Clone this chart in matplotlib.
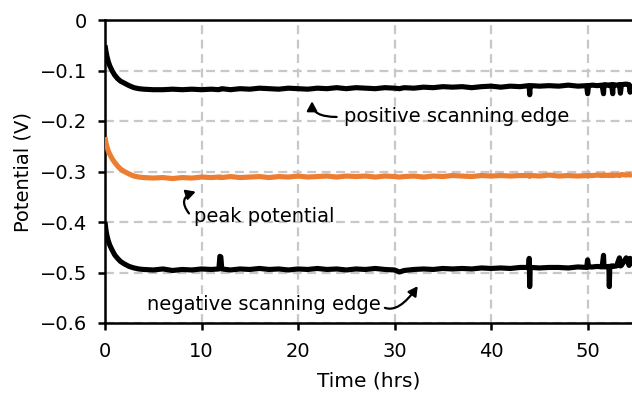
import matplotlib
matplotlib.use("Agg")
import matplotlib.pyplot as plt

plt.rcParams['font.family'] = ['DejaVu Sans']

time_hrs = [
    0, 0.1, 0.2, 0.35, 0.5, 0.75, 1.0, 1.3, 1.6, 2.0,
    2.5, 3.0, 3.5, 4, 5, 6, 7, 8, 9, 10,
    11, 11.8, 11.9, 12.0, 12.1, 13, 14, 15, 16, 17,
    18, 19, 20, 21, 22, 23, 24, 25, 26, 27,
    28, 29, 30, 30.5, 31, 32, 33, 34, 35, 36,
    37, 38, 39, 40, 41, 42, 43, 43.9, 43.95, 44.0,
    44.05, 44.2, 45, 46, 47, 48, 49, 49.9, 50.0, 50.1,
    50.5, 51, 51.5, 51.65, 51.7, 51.75, 52.2, 52.25, 52.3, 52.5,
    52.6, 52.65, 53, 53.3, 53.4, 53.5, 54, 54.3, 54.4, 54.6,
]

positive_edge = [
    -0.050, -0.062, -0.072, -0.083, -0.091, -0.101, -0.109, -0.116, -0.121, -0.125,
    -0.130, -0.134, -0.136, -0.137, -0.138, -0.138, -0.137, -0.138, -0.137, -0.138,
    -0.137, -0.138, -0.137, -0.137, -0.136, -0.138, -0.136, -0.137, -0.135, -0.136,
    -0.137, -0.135, -0.136, -0.137, -0.135, -0.136, -0.134, -0.136, -0.134, -0.135,
    -0.136, -0.134, -0.135, -0.136, -0.134, -0.135, -0.133, -0.134, -0.132, -0.133,
    -0.132, -0.134, -0.132, -0.131, -0.133, -0.131, -0.132, -0.130, -0.131, -0.148,
    -0.131, -0.130, -0.131, -0.130, -0.131, -0.129, -0.131, -0.130, -0.146, -0.130,
    -0.129, -0.130, -0.129, -0.146, -0.129, -0.128, -0.129, -0.130, -0.129, -0.128,
    -0.146, -0.128, -0.129, -0.128, -0.145, -0.128, -0.127, -0.128, -0.143, -0.127,
]

peak_potential = [
    -0.232, -0.243, -0.251, -0.260, -0.266, -0.275, -0.282, -0.289, -0.295, -0.300,
    -0.305, -0.309, -0.311, -0.312, -0.313, -0.312, -0.314, -0.312, -0.313, -0.311,
    -0.312, -0.311, -0.312, -0.311, -0.312, -0.310, -0.312, -0.311, -0.310, -0.312,
    -0.310, -0.311, -0.309, -0.311, -0.310, -0.309, -0.311, -0.309, -0.310, -0.309,
    -0.311, -0.309, -0.310, -0.311, -0.310, -0.309, -0.311, -0.309, -0.310, -0.308,
    -0.309, -0.310, -0.308, -0.309, -0.308, -0.309, -0.308, -0.308, -0.309, -0.308,
    -0.309, -0.308, -0.309, -0.307, -0.309, -0.308, -0.309, -0.308, -0.309, -0.308,
    -0.308, -0.307, -0.308, -0.307, -0.308, -0.307, -0.308, -0.307, -0.308, -0.307,
    -0.307, -0.308, -0.307, -0.308, -0.307, -0.306, -0.307, -0.306, -0.307, -0.306,
]

negative_edge = [
    -0.400, -0.416, -0.427, -0.438, -0.446, -0.456, -0.465, -0.472, -0.478, -0.483,
    -0.488, -0.491, -0.493, -0.494, -0.495, -0.493, -0.496, -0.494, -0.495, -0.493,
    -0.494, -0.493, -0.468, -0.469, -0.493, -0.495, -0.493, -0.494, -0.492, -0.494,
    -0.493, -0.495, -0.493, -0.494, -0.492, -0.494, -0.493, -0.495, -0.493, -0.494,
    -0.492, -0.494, -0.495, -0.499, -0.496, -0.494, -0.493, -0.494, -0.492, -0.493,
    -0.492, -0.493, -0.491, -0.492, -0.491, -0.492, -0.490, -0.490, -0.472, -0.528,
    -0.489, -0.490, -0.491, -0.490, -0.490, -0.491, -0.489, -0.490, -0.475, -0.489,
    -0.489, -0.488, -0.489, -0.466, -0.488, -0.489, -0.488, -0.528, -0.488, -0.487,
    -0.487, -0.488, -0.487, -0.471, -0.487, -0.486, -0.471, -0.486, -0.472, -0.486,
]

x_ticks = [0, 10, 20, 30, 40, 50]
y_ticks = [0, -0.1, -0.2, -0.3, -0.4, -0.5, -0.6]
y_tick_labels = ["0", "\u22120.1", "\u22120.2", "\u22120.3", "\u22120.4", "\u22120.5", "\u22120.6"]

fig = plt.figure(figsize=(6.32, 3.94), dpi=100)
ax = fig.add_axes([105/632, 71/394, 527/632, 303/394])

for series, col in [(positive_edge, 'black'), (peak_potential, '#ED7D31'), (negative_edge, 'black')]:
    ax.plot(time_hrs, series, color=col, lw=3.7, solid_joinstyle='round',
            solid_capstyle='butt', zorder=3)

ax.set_xlim(0, 54.6)
ax.set_ylim(-0.6, 0)
ax.set_xticks(x_ticks)
ax.set_yticks(y_ticks)
ax.set_yticklabels(y_tick_labels)
ax.grid(True, color='#c8c8c8', lw=1.6, linestyle=(0, (4, 2.5)), zorder=0)

for s in ['left', 'bottom', 'top']:
    ax.spines[s].set_linewidth(1.8)
    ax.spines[s].set_color('black')
ax.spines['right'].set_visible(False)
ax.tick_params(direction='out', length=5, width=1.8, labelsize=14)
ax.tick_params(axis='y', pad=8)
ax.tick_params(axis='x', pad=9)

ax.set_xlabel('Time (hrs)', fontsize=14.5, labelpad=7)
ax.set_ylabel('Potential (V)', fontsize=14, labelpad=5)

fs = 14
ax.text(24.8, -0.202, 'positive scanning edge', fontsize=fs, va='baseline', ha='left')
ax.text(9.2, -0.400, 'peak potential', fontsize=fs, va='baseline', ha='left')
ax.text(4.3, -0.574, 'negative scanning edge', fontsize=fs, va='baseline', ha='left')

arrow = dict(arrowstyle='-|>,head_length=0.55,head_width=0.3', color='black', lw=1.6,
             shrinkA=0, shrinkB=0)
ax.annotate('', xy=(21.45, -0.161), xytext=(24.0, -0.192),
            arrowprops=dict(arrow, connectionstyle='angle3,angleA=0,angleB=90'))
ax.annotate('', xy=(9.4, -0.340), xytext=(8.7, -0.383),
            arrowprops=dict(arrow, connectionstyle='arc3,rad=-0.7'))
ax.annotate('', xy=(32.4, -0.527), xytext=(29.0, -0.570),
            arrowprops=dict(arrow, connectionstyle='angle3,angleA=-20,angleB=55'))

fig.savefig('out.png', dpi=100)
